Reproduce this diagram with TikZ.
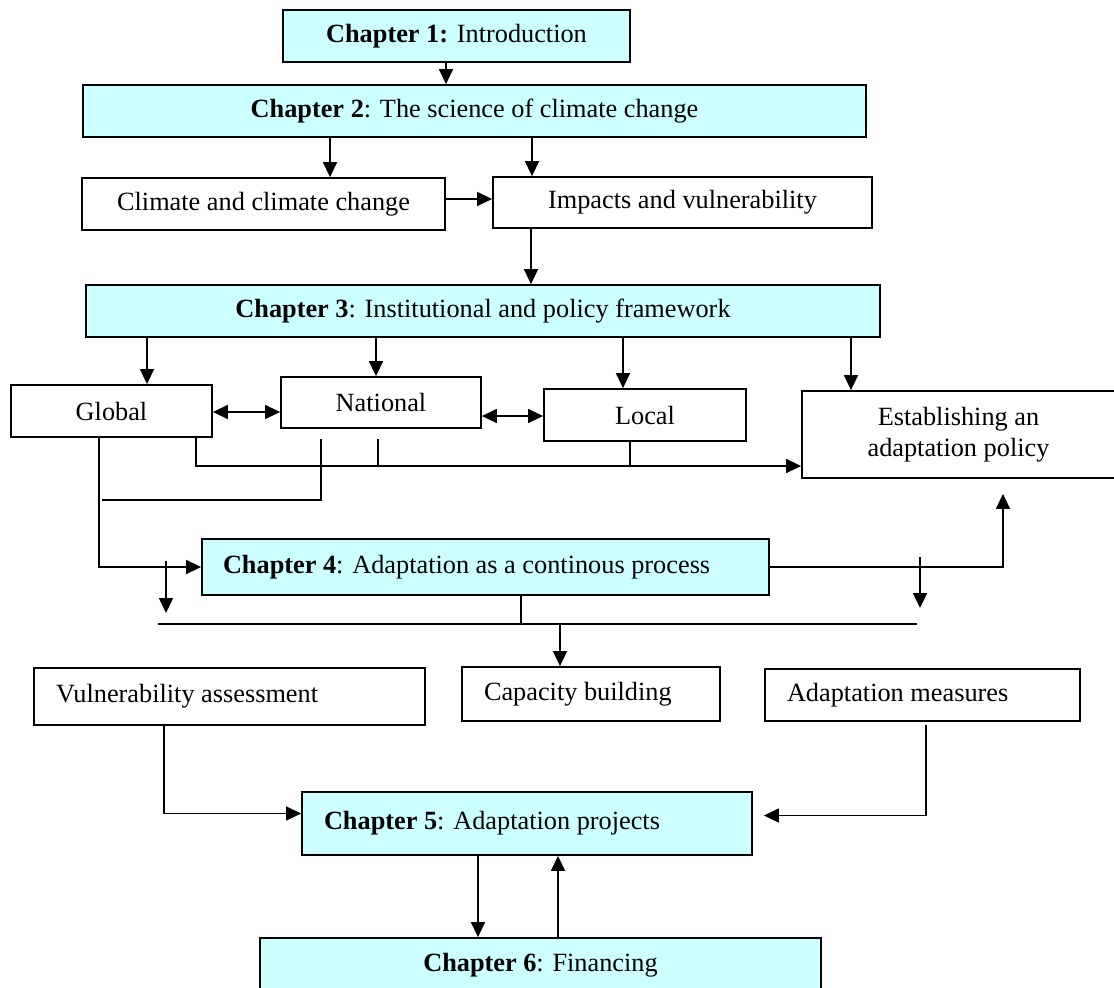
\documentclass[tikz,border=0pt]{standalone}
\usepackage{fontspec}
\setmainfont{Liberation Serif}
\usetikzlibrary{arrows.meta}
\definecolor{chapcyan}{RGB}{204,255,255}

\begin{document}
\begin{tikzpicture}[x=1pt,y=-1pt,
    font=\fontsize{26.3}{31}\selectfont,
    box/.style={draw,line width=1.8pt,inner sep=0pt,minimum height=52pt},
    chapbox/.style={box,fill=chapcyan},
    ln/.style={line width=1.5pt},
    arr/.style={ln,-{Triangle[length=15pt,width=14pt]}},
    both/.style={ln,{Triangle[length=15pt,width=14pt]}-{Triangle[length=15pt,width=14pt]}}]
\useasboundingbox (0,0) rectangle (1114,988);
% boxes
\node[chapbox,minimum width=347pt] (ch1) at (456.5,36) {\textbf{Chapter 1:} Introduction};
\node[chapbox,minimum width=783pt] (ch2) at (474.5,111) {\textbf{Chapter 2}: The science of climate change};
\node[box,minimum width=363pt] (clim) at (263.5,204) {Climate and climate change};
\node[box,minimum width=379pt,minimum height=51pt] (imp) at (682.5,202.5) {Impacts and vulnerability};
\node[chapbox,minimum width=794pt] (ch3) at (483,311) {\textbf{Chapter 3}: Institutional and policy framework};
\node[box,minimum width=201pt] (glob) at (111.5,411) {Global};
\node[box,minimum width=200pt,minimum height=51pt] (nat) at (381,402.5) {National};
\node[box,minimum width=202pt] (loc) at (645,415) {Local};
\node[box,minimum width=313pt,minimum height=87pt,align=center] (est) at (958.5,434.5) {Establishing an\\adaptation policy};
\node[chapbox,minimum width=567pt,minimum height=56pt,text width=525pt,align=flush left] (ch4) at (485.5,567) {\textbf{Chapter 4}: Adaptation as a continous process};
\node[box,minimum width=391pt,minimum height=57pt,text width=347pt,align=flush left] (vuln) at (229.5,696.5) {Vulnerability assessment};
\node[box,minimum width=258pt,minimum height=54pt,text width=214pt,align=flush left] (cap) at (591,694) {Capacity building};
\node[box,minimum width=315pt,text width=271pt,align=flush left] (adm) at (922.5,695) {Adaptation measures};
\node[chapbox,minimum width=450pt,minimum height=63pt,text width=406pt,align=flush left] (ch5) at (527,823.5) {\textbf{Chapter 5}: Adaptation projects};
\node[chapbox,minimum width=561pt,minimum height=54pt] (ch6) at (540.5,965) {\textbf{Chapter 6}: Financing};
%
% chapters 1-3
\draw[arr] (ch1.south -| 446,0) -- (ch2.north -| 446,0);
\draw[arr] (ch2.south -| 330,0) -- (clim.north -| 330,0);
\draw[arr] (ch2.south -| 532,0) -- (imp.north -| 532,0);
\draw[arr] (clim.east |- 0,199) -- (imp.west |- 0,199);
\draw[arr] (imp.south -| 531,0) -- (ch3.north -| 531,0);
\foreach \x/\n in {147/glob,376/nat,623/loc,851/est}
    \draw[arr] (ch3.south -| \x,0) -- (\n.north -| \x,0);
\draw[both] (glob.east |- 0,412) -- (nat.west |- 0,412);
\draw[both] (nat.east |- 0,416) -- (loc.west |- 0,416);
%
% levels to policy
\coordinate (bus) at (196,466);
\draw[arr] (glob.south -| bus) |- (est.west |- bus);
\draw[ln] ([yshift=-10pt]nat.south -| 378,0) -- (378,0 |- bus);
\draw[ln] (loc.south -| 630,0) -- (630,0 |- bus);
%
% levels to chapter 4
\coordinate (jn) at (102,500);
\draw[ln] ([yshift=-10pt]nat.south -| 321,0) |- (jn);
\draw[arr] (glob.south -| 99,0) |- (ch4.west);
\draw[arr] (ch4.east) -| ([yshift=-15pt]est.south -| 1003,0);
\draw[arr] ([yshift=6pt]ch4.west -| 166,0) -- ++(0,52);
\draw[arr] ([yshift=10pt]ch4.east -| 920,0) -- ++(0,51);
%
% chapter 4 to its parts
\coordinate (lb) at (158,624);
\coordinate (rb) at (917,624);
\draw[ln] (lb) -- (rb);
\draw[ln] (ch4.south -| 521,0) -- (521,0 |- lb);
\draw[arr] (560,0 |- lb) -- (cap.north -| 560,0);
%
% chapters 5-6
\draw[arr] (vuln.south -| 164,0) |- ([yshift=10pt]ch5.west);
\draw[arr] ([yshift=-3pt]adm.south -| 926,0) |- ([xshift=11pt,yshift=8pt]ch5.east);
\draw[arr] (ch5.south -| 478,0) -- (ch6.north -| 478,0);
\draw[arr] (ch6.north -| 558,0) -- (ch5.south -| 558,0);
\end{tikzpicture}
\end{document}
